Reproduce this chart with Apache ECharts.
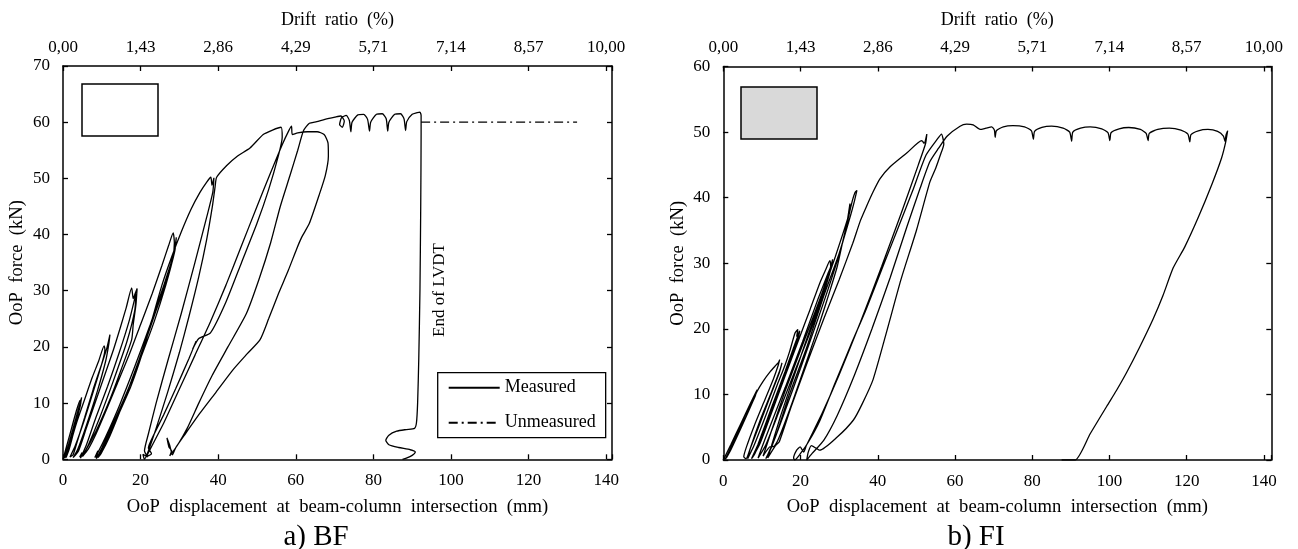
<!DOCTYPE html>
<html>
<head>
<meta charset="utf-8">
<script src="https://cdn.jsdelivr.net/npm/echarts@6/dist/echarts.min.js"></script>
<style>
html,body{margin:0;padding:0;background:#fff;}
#c{width:1298px;height:549px;}
</style>
</head>
<body>
<div id="c"></div>
<script>
// ---------- tick labels ----------
const dispTicks = [0, 20, 40, 60, 80, 100, 120, 140];
const driftLabels = ['0,00', '1,43', '2,86', '4,29', '5,71', '7,14', '8,57', '10,00'];

// ---------- a) BF : OoP displacement (mm), OoP force (kN) ----------
const bfCycle10 = [[0,0],[1,2.5],[2.2,5.5],[3.4,8.5],[4.4,10.5],[4.6,10.1],[3.6,7.4],[2.3,4],[1,1],[0.4,0.2],
  [1.5,2.8],[2.8,6],[4,9],[4.8,11],[4.5,9.8],[3,5.5],[1.6,1.8],[0.8,0.3]];
const bfCycle20 = [[2,3],[3.5,6.5],[5.5,10.5],[7.5,14.5],[9.2,17.5],[10.6,20.2],[10.8,19.5],[10.2,17.5],[8,12.5],[5.5,7],[3.2,2.5],[1.8,0.4],
  [2.6,0.8],[3.6,3],[5.6,7.5],[7.8,12.5],[10,17],[11.3,19.8],[12.1,22.2],[11.8,20.5],[11,17.5],[8.8,12],[6,6],[3.8,1.8],[2.6,0.3]];
const bfCycle30 = [[4,1.5],[6,5.5],[8.5,10.5],[11,15.5],[13,19.5],[14.8,23.5],[16.3,27],[17.7,30.5],[18.1,28.6],[18.6,29.5],[19.1,30.4],
  [18.8,27.5],[18.1,24],[17.7,21.3],[15,16],[12,10.5],[8.5,5],[5.5,1.2],[4.3,0.4],[4.9,1.2],[4.5,0.2],
  [6,2.5],[8.5,7.5],[11.5,13],[14.5,19],[17,24.5],[18.8,29.5],[18.5,26.5],[16.5,21],[13,14],[9.5,7.5],[6.5,2.5],[5,0.5]];
const bfCycle40 = [[6.5,1.8],[8.5,4.5],[11,8.5],[14,13.5],[17,18.5],[20,24],[23,29.5],[25.5,34.5],[27.2,38],[28.4,40.3],[28.7,38.5],[28.3,36],
  [26,31],[22.5,24],[18.5,16.5],[14.5,9.5],[11,4],[9,1.2],[8.2,0.3],[9,1.5],[8.6,0.1],
  [10,2],[13,6.5],[16.5,12],[20,18],[23.5,24.5],[26.5,31],[28.6,36.5],[29.2,39.5],[28.8,37],[26.8,32],[23.5,25.5],[19.5,17.5],[15.5,10],[12,4],[9.8,1],[9,0.3]];
const bfCycle50 = [[11,3],[14,7.5],[17.5,13],[20.5,19],[23,25],[25.5,31],[28,36],[30.5,40.5],[33,44.5],[35.3,47.5],[37,49.3],[38.1,50.2],
  [38.4,48.8],[38.9,50.1],[38.6,47.5],[37,43],[34,35],[30.5,26],[27,17.5],[24,10],[22,4.5],[21,1.5],[21.8,0.4],[20.6,0.9],[21,0],
  [22,1.5],[24,5.5],[27,12],[30,19],[32.5,25.5],[35,32.5],[37,39],[38.5,45],[39.2,48.5],[39.6,50.2]];
const bfCycle59 = [[42.2,52.3],[45,54],[48.2,55.4],[51.6,57.8],[54,58.6],[56.2,59.1],[56.5,57.3],
  [55.5,54],[53,48],[50,42],[46,35],[42,28],[38,22.5],[35,21.5],[33.4,19.6],[34.3,21],[32.5,18],[29,12.5],[26,8],[23.5,4.5],[22,2],[22.8,1],[21.5,0.5],
  [23,2.5],[26,6.5],[30,12.5],[34,18.5],[38,24.5],[42,31],[46,38],[50,45],[53.5,51],[56.5,56],[58.2,58.5],[58.9,59.3],[59.1,57.8],
  [60.5,58.1],[63,58.3],[65.5,58.3],[67.3,57.8],[68.3,56.3],[68.4,54],[67.6,50.5],[66,47],[63.5,42],[61.5,39.5],[60.2,37.4],[58,33.5],
  [55.6,29.6],[53,25],[50.8,21.3],[47.5,18.8],[43.9,16],[39.5,12],[35.3,8.2],[31.5,4.5],[29,2],[28.2,0.8],[27.5,2.5],[26.8,3.8],[27.3,2.2],[28,1.5],[27.5,0.6]];
const bfFinal = [[29.5,2.5],[32,5.5],[35,10],[38.5,15],[42.5,20],[47.3,26],[50.5,32],[53.5,38.5],[56,45],[58.5,50.5],[60.5,55],[62,58.5],
  [63.5,59.8],[65.4,60.1],[67.5,60.5],[70.1,60.9],[71.6,61.1],[72.5,60.2],[72,59.1],[71.3,59.6],[71.8,60.8],[73,61.2],[73.8,60.3],[74.2,58.3],
  [74.5,60],[76,61.3],[77.5,61.4],[78.5,60.5],[79,58.4],[79.3,60],[80.8,61.4],[82.3,61.5],[83.3,60.6],[83.7,58.4],[84,60],[85.5,61.4],
  [87,61.5],[87.9,60.6],[88.3,58.5],[88.6,60.1],[90,61.4],[91.3,61.7],[92,61.8],[92.3,61.2],
  [92.3,58],[92.2,45],[92,30],[91.7,18],[91.4,10],[91.1,6.5],[90.6,5.5],[88.5,5.3],[86,5],[84,4.3],[83.2,3.4],[84,2.6],[86.5,2.1],
  [89.5,1.7],[90.8,1.3],[90,0.7],[88.5,0.2],[87.5,0]];
const bfUnmeasured = [[92.3,60],[132.5,60]];

// ---------- b) FI ----------
const fiCycle10 = [[0,0],[2,2.4],[4.5,5.5],[7,8.6],[8.6,10.5],[8.3,9.8],[6,6.8],[3.5,3.5],[1.2,0.8],[0.5,0.1],
  [2.5,2.6],[5,6],[7.5,9.2],[8.8,10.7],[8,9.4],[5,5.4],[2,1.6],[0.8,0.3],[3,3],[6,6.8],[8.7,10.4]];
const fiCycle15 = [[10.3,12],[12.2,13.5],[13.7,14.5],[14.3,14.9],[14.6,15.3],[14.2,14.4],[13,12.4],[10.5,8.8],[8,5.2],[6,2],[5.3,0.5],[5.9,0.2],
  [7,1.8],[9.5,5.6],[12,9.5],[14.5,13.3],[15.2,14.8],[14.6,13.6],[12.5,10.4],[9.5,6],[7,1.8],[6.3,0.2]];
const fiCycle20 = [[8,2.3],[11,6.8],[14,11.5],[16,14.5],[17.2,16.6],[18.6,19.4],[19.3,19.9],[19,18.8],[19.7,19.6],[19.2,18.2],[17,14.8],[14,10],
  [11,5],[8.2,1],[7.3,0.2],[9,2.4],[12.5,8],[16,13.5],[18.5,17.6],[19.8,19.7],[19.3,18.4],[16.5,14],[12.5,8],[9,2.4],[7.5,0.3]];
const fiCycle30 = [[9.5,2.5],[13,8],[16,12.8],[19.5,18.3],[22.5,23],[25,27],[26.5,29],[27.6,30.4],[27.8,29.5],[27.2,28.6],[24.5,24.5],[20.5,18],
  [16,11],[12,5],[9.6,1.3],[9,0.3],[11,2.3],[14.5,7.5],[18.5,13.5],[22.5,19.5],[26,25.5],[27.8,29],[28.3,30.6],[27.8,29.4],[25,24.5],
  [20.5,17.5],[16,10.5],[12.5,4.5],[10.3,0.6]];
const fiCycle40 = [[12,2],[13.2,2.1],[14.5,3.5],[18,9],[22,15.8],[25,21],[27.5,25.6],[29.5,29.5],[31,33.5],[32.4,37],[33.4,39.5],[34.1,40.8],
  [34.6,41.1],[34,39.6],[33,37.4],[30,31.5],[26,25],[21.5,17],[17,9.8],[13.5,3.5],[11.5,0.8],[11,0.2],[12.5,2],[16,7.5],[20,14],[24.5,21.5],
  [28.5,28.5],[31.5,34.5],[32.8,39.1],[32.6,37.6],[29,31],[24,22.5],[19,14],[15,7],[12.5,2.2],[11.5,0.3]];
const fiCycle50 = [[13.5,2.2],[14.5,2.8],[17.5,8],[21.5,14.5],[26,21.5],[30,27.5],[33.5,33],[35.5,36.5],[37.1,38.7],[38.8,40.9],[40.6,42.9],
  [43.2,44.7],[47.5,46.8],[51.4,48.7],[52,48.3],[52.7,49.7],[52.4,48.3],[50.5,45],[46,37.5],[41,29.5],[35.5,21],[30,13],[25.5,7],[21.5,2.2],
  [20.8,1.2],[19.9,2],[19,1.5],[18.2,0.3],[18.5,0],[20,1],[22,2.7],[25,6],[29,11.8],[33,17.5],[37,23],[41,29],[45,35],[49,41],[52.5,46.5],
  [55.5,49],[56.5,49.7],[57.1,48.2],[56.2,46.5],[55,44.5],[53.5,42.4],[50,35],[46,27.5],[42.5,20],[38.8,12.3],[36,8.6],[33.7,6.1],
  [29.5,3.5],[25,1.5],[22.8,2.2],[22,1.2],[21.6,0]];
const fiFinal = [[23,1],[26,3],[29.5,6.8],[34,13],[38.5,20],[43.2,27.8],[47.5,35.5],[51,41.5],[53.5,45.5],[55.7,47.5],[58,49.4],[61.3,50.9],
  [63,51.2],[64.7,51.1],[66.5,50.4],[68,50.6],[69.5,50.8],[70.2,50.3],[70.4,49.2],[70.7,50.2],[72.5,50.8],[75,51],[78,50.8],[79.8,50.2],
  [80.3,48.9],[80.6,50.1],[82.5,50.7],[85,50.9],[88,50.6],[89.7,50],[90.2,48.6],[90.5,50],[92.5,50.6],[95,50.8],[98,50.5],[99.6,49.9],
  [100.1,48.7],[100.4,49.9],[102.5,50.5],[105,50.7],[108,50.4],[109.5,49.8],[110,48.7],[110.3,49.8],[112.5,50.4],[115.5,50.6],[118.5,50.3],
  [120.3,49.7],[120.8,48.5],[121.1,49.6],[123,50.2],[125.5,50.4],[128,50.1],[129.5,49.4],[129.9,48.6],[130.2,49.6],[130.6,50.2],[130.1,48.5],
  [129,46],[126.5,42],[123,37],[119.5,32.5],[116.5,29.3],[113.8,25],[111.3,21.5],[107.8,17.2],[104.4,13.3],[101.8,10.6],[99.3,8.2],
  [95,4],[91.1,0],[87.6,0]];

const bfMeasured = [].concat(bfCycle10, bfCycle20, bfCycle30, bfCycle40, bfCycle50, bfCycle59, bfFinal);
const fiMeasured = [].concat(fiCycle10, fiCycle15, fiCycle20, fiCycle30, fiCycle40, fiCycle50, fiFinal);

// ---------- styling ----------
const FONT = 'Liberation Serif';
const BLACK = '#000';

function bottomX(gi, max) {
  return {
    type: 'value', gridIndex: gi, position: 'bottom', min: 0, max: max, interval: 20,
    name: 'OoP  displacement  at  beam-column  intersection  (mm)', nameLocation: 'middle', nameGap: 38,
    nameTextStyle: {fontFamily: FONT, fontSize: 18.6, color: BLACK},
    axisLine: {onZero: false, lineStyle: {color: BLACK, width: 1.5}},
    axisTick: {inside: true, length: 5, lineStyle: {color: BLACK, width: 1.3}},
    axisLabel: {margin: 13, fontFamily: FONT, fontSize: 17, color: BLACK,
      formatter: v => (dispTicks.indexOf(v) >= 0 ? String(v) : '')},
    splitLine: {show: false}
  };
}
function topX(gi, max) {
  return {
    type: 'value', gridIndex: gi, position: 'top', min: 0, max: max, interval: 20,
    name: 'Drift  ratio  (%)', nameLocation: 'middle', nameGap: 37,
    nameTextStyle: {fontFamily: FONT, fontSize: 18, color: BLACK},
    axisLine: {onZero: false, lineStyle: {color: BLACK, width: 1.5}},
    axisTick: {inside: true, length: 5, lineStyle: {color: BLACK, width: 1.3}},
    axisLabel: {margin: 10, fontFamily: FONT, fontSize: 17, color: BLACK,
      formatter: v => { const i = dispTicks.indexOf(v); return i >= 0 ? driftLabels[i] : ''; }},
    splitLine: {show: false}
  };
}
function leftY(gi, max) {
  return {
    type: 'value', gridIndex: gi, position: 'left', min: 0, max: max, interval: 10,
    name: 'OoP  force  (kN)', nameLocation: 'middle', nameGap: 36, nameRotate: 90,
    nameTextStyle: {fontFamily: FONT, fontSize: 18.6, color: BLACK},
    axisLine: {onZero: false, lineStyle: {color: BLACK, width: 1.5}},
    axisTick: {inside: true, length: 5, lineStyle: {color: BLACK, width: 1.3}},
    axisLabel: {margin: 13, fontFamily: FONT, fontSize: 17, color: BLACK},
    splitLine: {show: false}
  };
}
function rightY(gi, max) {
  return {
    type: 'value', gridIndex: gi, position: 'right', min: 0, max: max, interval: 10,
    axisLine: {onZero: false, lineStyle: {color: BLACK, width: 1.5}},
    axisTick: {inside: true, length: 5, lineStyle: {color: BLACK, width: 1.3}},
    axisLabel: {show: false}, splitLine: {show: false}
  };
}

const chart = echarts.init(document.getElementById('c'), null, {renderer: 'canvas'});
chart.setOption({
  animation: false,
  backgroundColor: '#fff',
  grid: [
    {left: 63, top: 66, width: 549, height: 393.3},
    {left: 723.3, top: 66.5, width: 548, height: 393.5}
  ],
  xAxis: [bottomX(0, 141.5), topX(0, 141.5), bottomX(1, 141.9), topX(1, 141.9)],
  yAxis: [leftY(0, 70), rightY(0, 70), leftY(1, 60), rightY(1, 60)],
  legend: {
    left: 437.7, top: 372.7, orient: 'vertical',
    data: ['Measured', 'Unmeasured'],
    borderColor: BLACK, borderWidth: 1.3, backgroundColor: '#fff',
    padding: [6, 10, 6, 10], itemWidth: 51, itemHeight: 18, itemGap: 17,
    itemStyle: {color: 'rgba(0,0,0,0)', borderColor: 'rgba(0,0,0,0)', borderWidth: 0, opacity: 0},
    textStyle: {fontFamily: FONT, fontSize: 18, color: BLACK, lineHeight: 18},
    selectedMode: false
  },
  series: [
    {name: 'Measured', type: 'line', xAxisIndex: 0, yAxisIndex: 0, data: bfMeasured,
      symbol: 'none', smooth: 0.2, lineStyle: {color: BLACK, width: 1.3}, itemStyle: {color: BLACK}},
    {name: 'Unmeasured', type: 'line', xAxisIndex: 0, yAxisIndex: 0, data: bfUnmeasured,
      symbol: 'none', lineStyle: {color: BLACK, width: 1.2, type: [9, 4, 2, 4]}, itemStyle: {color: BLACK}},
    {name: 'Measured', type: 'line', xAxisIndex: 2, yAxisIndex: 2, data: fiMeasured,
      symbol: 'none', smooth: 0.2, lineStyle: {color: BLACK, width: 1.3}, itemStyle: {color: BLACK}}
  ],
  graphic: [
    {type: 'rect', shape: {x: 82, y: 84, width: 76, height: 52}, style: {fill: '#fff', stroke: BLACK, lineWidth: 1.5}},
    {type: 'rect', shape: {x: 741, y: 87, width: 76, height: 52}, style: {fill: '#d9d9d9', stroke: BLACK, lineWidth: 1.5}},
    {type: 'text', x: 440, y: 290, rotation: Math.PI / 2,
      style: {text: 'End of LVDT', fill: BLACK, fontFamily: FONT, fontSize: 17, align: 'center', verticalAlign: 'middle',
        textAlign: 'center', textVerticalAlign: 'middle'}},
    {type: 'text', x: 316, y: 537,
      style: {text: 'a) BF', fill: BLACK, fontFamily: FONT, fontSize: 29, align: 'center', verticalAlign: 'middle',
        textAlign: 'center', textVerticalAlign: 'middle'}},
    {type: 'text', x: 976, y: 537,
      style: {text: 'b) FI', fill: BLACK, fontFamily: FONT, fontSize: 29, align: 'center', verticalAlign: 'middle',
        textAlign: 'center', textVerticalAlign: 'middle'}}
  ]
});
</script>
</body>
</html>
